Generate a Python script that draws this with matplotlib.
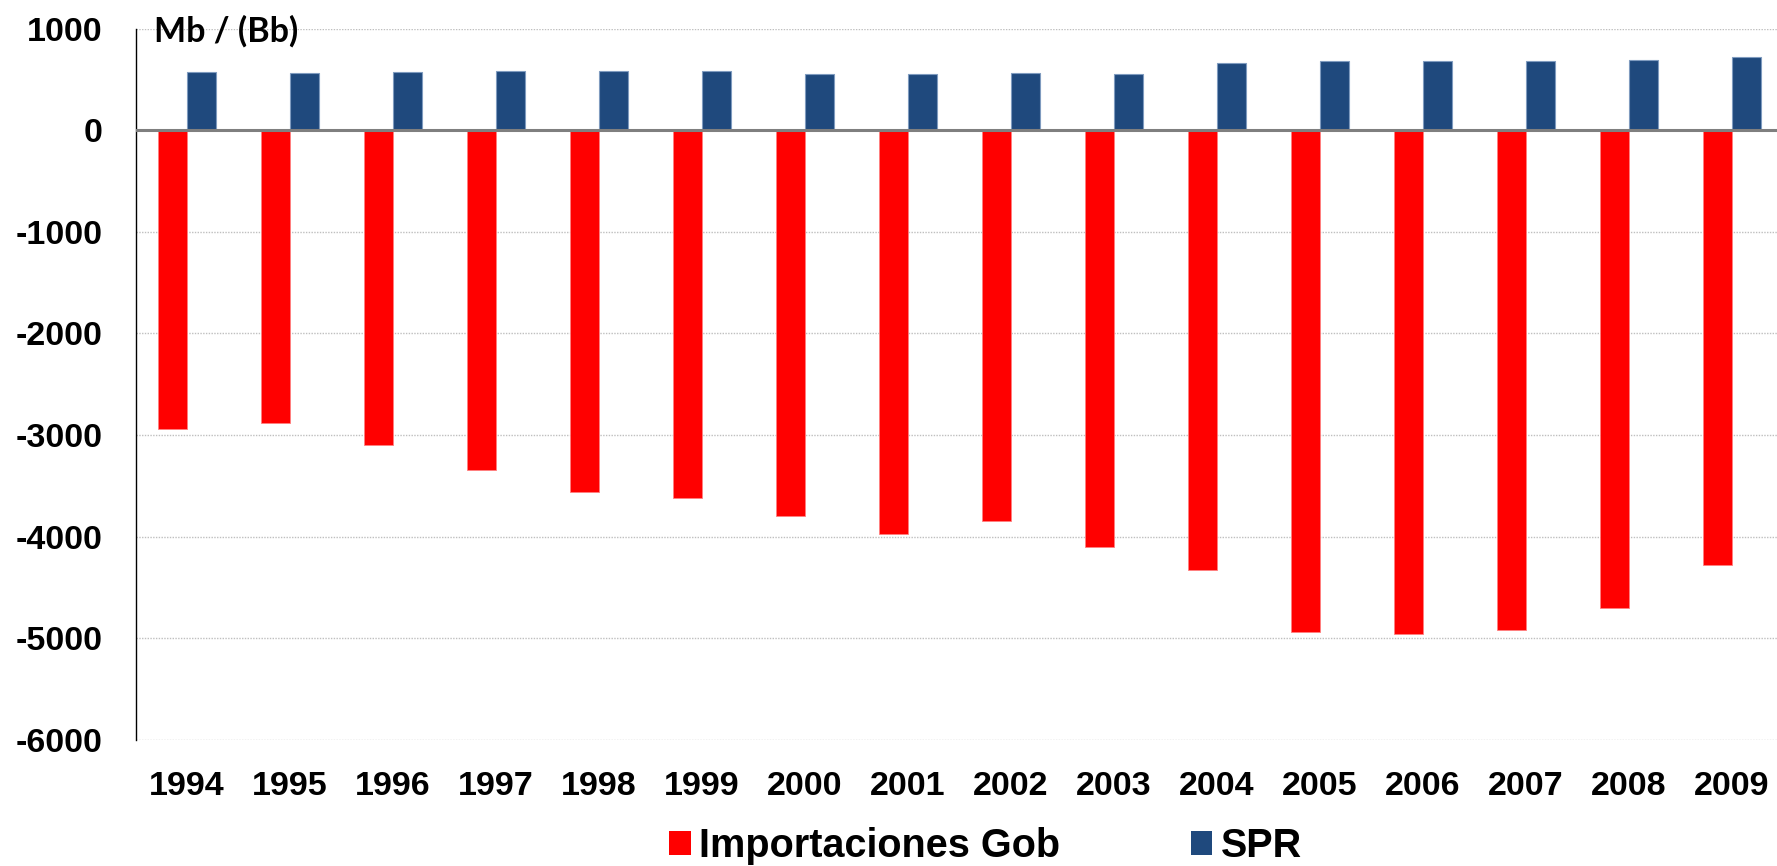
import matplotlib
matplotlib.use("Agg")
import matplotlib.pyplot as plt
import numpy as np
from matplotlib.patches import Patch

years = ["1994", "1995", "1996", "1997", "1998", "1999", "2000", "2001",
         "2002", "2003", "2004", "2005", "2006", "2007", "2008", "2009"]
importaciones = [-2940, -2880, -3100, -3340, -3560, -3615, -3800, -3975,
                 -3850, -4100, -4325, -4935, -4960, -4915, -4705, -4280]
spr = [577, 564, 569, 579, 582, 582, 557, 551,
       562, 557, 662, 679, 679, 682, 695, 718]
yticks = [1000, 0, -1000, -2000, -3000, -4000, -5000, -6000]

RED = "#FF0000"
BLUE = "#1F497D"

plt.rcParams['font.family'] = ['Liberation Sans', 'DejaVu Sans']
plt.rcParams['font.weight'] = 'bold'

fig = plt.figure(figsize=(17.77, 8.66), dpi=100)
W, H = 1777, 866
left = 135.5 / W
right = 1783.5 / W
top = 1 - 28.6 / H
bottom = 1 - 740 / H
ax = fig.add_axes([left, bottom, right - left, top - bottom])

x = np.arange(len(years))
bw = 0.285
ax.bar(x - bw / 2, importaciones, width=bw, color=RED,
       edgecolor="#FF8080", linewidth=0.6, zorder=3, label="Importaciones Gob")
ax.bar(x + bw / 2, spr, width=bw, color=BLUE,
       edgecolor="#7F9BBF", linewidth=0.8, zorder=3, label="SPR")

ax.set_xlim(-0.5, len(years) - 0.5)
ax.set_ylim(-6000, 1000)
ax.set_yticks(yticks)
ax.set_yticklabels([str(v) for v in yticks])
ax.set_xticks(x)
ax.set_xticklabels(years)

for s in ["top", "right", "bottom"]:
    ax.spines[s].set_visible(False)
ax.spines["left"].set_color("#000000")
ax.spines["left"].set_linewidth(1.0)

ax.tick_params(axis="y", length=0, pad=23.5, labelsize=24.5)
ax.tick_params(axis="x", length=0, pad=22, labelsize=24.5)
for lab in ax.get_xticklabels() + ax.get_yticklabels():
    lab.set_fontweight("bold")

ax.grid(axis="y", color="#BFBFBF", linestyle=(0, (1, 1)), linewidth=1.0, zorder=0)
ax.axhline(0, color="#7F7F7F", linewidth=2.2, zorder=4)

fig.text(154 / W, 1 - 31 / H, "Mb / (Bb)", fontsize=24.5, fontweight="bold",
         family=["Lato", "DejaVu Sans"], ha="left", va="center", color="#000000")

handles = [Patch(facecolor=RED, edgecolor="none"),
           Patch(facecolor=BLUE, edgecolor="none")]
fig.legend(handles, ["Importaciones Gob", "SPR"], loc="center",
           bbox_to_anchor=(0.5547, 1 - 846 / H), ncol=2, frameon=False,
           prop={"size": 28.5, "weight": "bold"},
           handlelength=0.54, handleheight=0.54, handletextpad=0.22,
           columnspacing=3.3, borderpad=0, borderaxespad=0)

fig.savefig("out.png", dpi=100)
